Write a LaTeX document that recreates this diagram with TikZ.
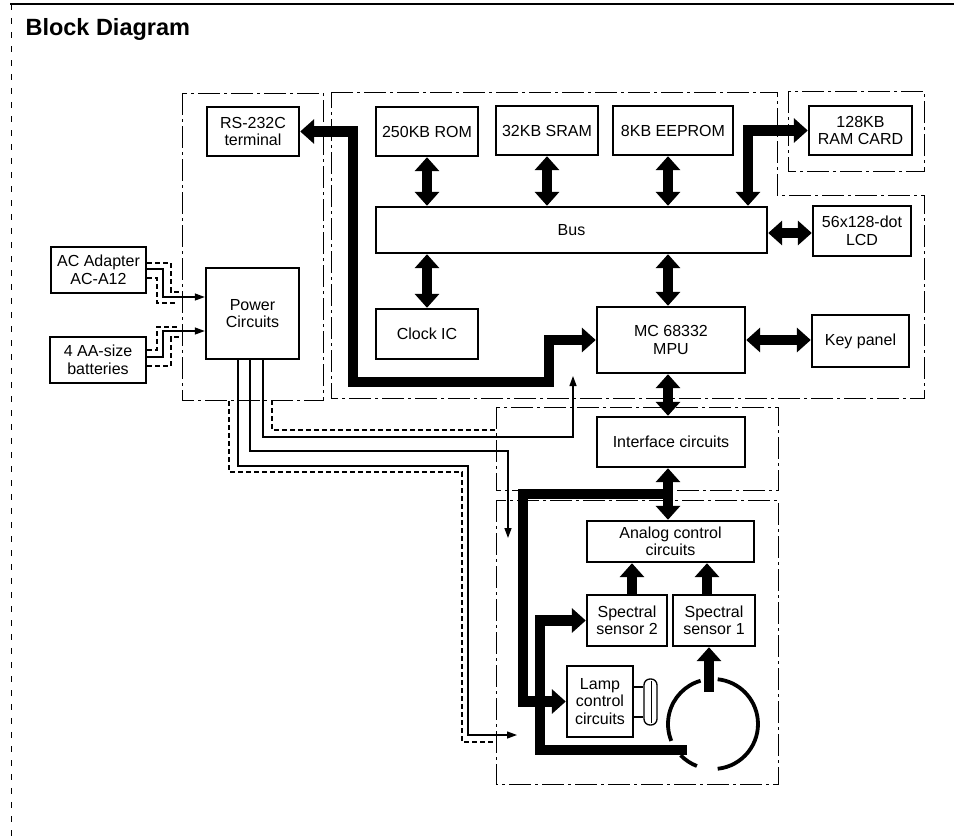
\documentclass[tikz,border=0pt]{standalone}
\usepackage{fontspec}
\setmainfont{Liberation Sans}
\usetikzlibrary{arrows.meta}
\tikzset{
  bigtri/.tip={Triangle[width=24pt,length=14pt]},
  smalltri/.tip={Triangle[width=7pt,length=10pt]},
}
\begin{document}
\begin{tikzpicture}[x=1pt,y=-1pt,
  box/.style={draw, line width=2.4pt, inner sep=0pt, align=center, font=\fontsize{16}{17.5}\selectfont},
  encl/.style={line width=1pt, dash pattern=on 22pt off 4pt on 3pt off 4pt},
  fat/.style={line width=10.5pt},
  fatb/.style={fat, bigtri-bigtri},
  fata/.style={fat, -bigtri},
  wire/.style={line width=1.3pt},
  warr/.style={wire, -smalltri},
  dwire/.style={line width=1.2pt, dash pattern=on 5pt off 3pt},
  ring/.style={line width=3.8pt}
]
\useasboundingbox (0,0) rectangle (954,836);

% outer frame
\draw[line width=1.5pt] (10,4) -- (954,4);
\draw[line width=0.8pt, dash pattern=on 6pt off 8pt] (11,4) -- (11,836);

\node[anchor=base west, font=\fontsize{23.5}{26}\selectfont\bfseries] (title) at (22,35) {Block Diagram};

% enclosures
\draw[encl] (182,93) rectangle (323,400);
\draw[encl] (331,92) -- (777,92) -- (777,195) -- (924,195) -- (924,398) -- (331,398) -- cycle;
\draw[encl] (788,91) rectangle (924,171);
\draw[encl] (496,407) rectangle (778,490);
\draw[encl] (496,500) rectangle (778,784);

% boxes
\node[box, minimum width=92pt, minimum height=49pt] (rs) at (253,131.5) {RS-232C\\terminal};
\node[box, minimum width=102pt, minimum height=49pt] (rom) at (427,131.5) {250KB ROM};
\node[box, minimum width=102pt, minimum height=49pt] (sram) at (547,130.5) {32KB SRAM};
\node[box, minimum width=120pt, minimum height=49pt] (eeprom) at (673,130.5) {8KB EEPROM};
\node[box, minimum width=103pt, minimum height=49pt] (ram) at (860.5,130.5) {128KB\\RAM CARD};
\node[box, minimum width=391pt, minimum height=46pt] (bus) at (571.5,230) {Bus};
\node[box, minimum width=98pt, minimum height=50pt] (lcd) at (862,231) {56x128-dot\\LCD};
\node[box, minimum width=102pt, minimum height=50pt] (clock) at (427,334) {Clock IC};
\node[box, minimum width=148pt, minimum height=66pt] (mpu) at (671,340) {MC 68332\\MPU};
\node[box, minimum width=97pt, minimum height=52pt] (key) at (860.5,341) {Key panel};
\node[box, minimum width=148pt, minimum height=50pt] (intf) at (671,442) {Interface circuits};
\node[box, minimum width=167pt, minimum height=41pt] (analog) at (670.5,541.5) {Analog control\\circuits};
\node[box, minimum width=80pt, minimum height=51pt] (ss2) at (627,620.5) {Spectral\\sensor 2};
\node[box, minimum width=82pt, minimum height=51pt] (ss1) at (714,620.5) {Spectral\\sensor 1};
\node[box, minimum width=66pt, minimum height=71pt] (lampc) at (600,701.5) {Lamp\\control\\circuits};
\node[box, minimum width=95pt, minimum height=46pt] (ac) at (98.5,270) {AC Adapter\\AC-A12};
\node[box, minimum width=96pt, minimum height=46pt] (bat) at (98,360) {4 AA-size\\batteries};
\node[box, minimum width=93pt, minimum height=91pt] (pwr) at (252.5,313.5) {Power\\Circuits};

% lamp tube and light ring
\node[draw, line width=1.3pt, rounded corners=6pt, minimum width=13pt, minimum height=46pt, inner sep=0pt] (tube) at (650.5,702) {};
\draw[line width=1pt] (651.5,681) -- (651.5,723);
\draw[wire] (lampc.east |- 0,687) -- (tube.west |- 0,687);
\draw[wire] (lampc.east |- 0,717) -- (tube.west |- 0,717);
\coordinate (ringc) at (713,724);
\begin{scope}[shift={(ringc)}, y=1pt]
  \draw[ring] (106:45) arc[start angle=106, end angle=202, radius=45];
  \draw[ring] (224:45) arc[start angle=224, end angle=249, radius=45];
  \draw[ring] (276:45) arc[start angle=276, end angle=444, radius=45];
\end{scope}
\coordinate (beam1) at (709,692);
\coordinate (beam2) at (687,750);

% power wiring
\draw[dwire] (ac.east |- 0,263) -- (171,263) -- (171,292) -- (181,292);
\draw[dwire] (ac.east |- 0,278) -- (157,278) -- (157,303) -- (178,303);
\draw[warr] (ac.east |- 0,269) -- (163,269) -- (163,297) -- (pwr.west |- 0,297);
\draw[dwire] (bat.east |- 0,350) -- (157,350) -- (157,327) -- (178,327);
\draw[dwire] (bat.east |- 0,366) -- (171,366) -- (171,337) -- (181,337);
\draw[warr] (bat.east |- 0,357) -- (163,357) -- (163,331) -- (pwr.west |- 0,331);

\draw[dwire] (272,400) -- (272,430) -- (496,430);
\draw[warr] (263,0 |- pwr.south) -- (263,437) -- (573,437) -- (573,376);
\draw[warr] (250,0 |- pwr.south) -- (250,451) -- (508,451) -- (508,538);
\draw[dwire] (229,401) -- (229,472) -- (462,472) -- (462,742) -- (496,742);
\draw[warr] (238,0 |- pwr.south) -- (238,466) -- (468,466) -- (468,735) -- (517,735);

% thick data paths
\draw[fatb] (rs.east) -- (353,131.5) -- (353,382) -- (549,382) -- (549,340) -- (mpu.west);
\draw[fatb] (rom.south) -- (rom.south |- bus.north);
\draw[fatb] (sram.south) -- (sram.south |- bus.north);
\draw[fatb] (668,0 |- eeprom.south) -- (668,0 |- bus.north);
\draw[fatb] (clock.north) -- (clock.north |- bus.south);
\draw[fatb] (668,0 |- bus.south) -- (668,0 |- mpu.north);
\draw[fatb] (668,0 |- mpu.south) -- (668,0 |- intf.north);
\draw[fatb] (668,0 |- intf.south) -- (668,0 |- analog.north);
\draw[fatb] (748,0 |- bus.north) -- (748,130.5) -- (ram.west);
\draw[fatb] (bus.east |- 0,233) -- (lcd.west |- 0,233);
\draw[fatb] (mpu.east) -- (mpu.east -| key.west);
\draw[fata] (668,494) -- (523,494) -- (523,701.5) -- (lampc.west);
\draw[fata] (632,0 |- ss2.north) -- (632,0 |- analog.south);
\draw[fata] (707,0 |- ss1.north) -- (707,0 |- analog.south);
\draw[fata] (beam1) -- (beam1 |- ss1.south);
\draw[fata] (beam2) -- (540,750) -- (540,620.5) -- (ss2.west);
\end{tikzpicture}
\end{document}
